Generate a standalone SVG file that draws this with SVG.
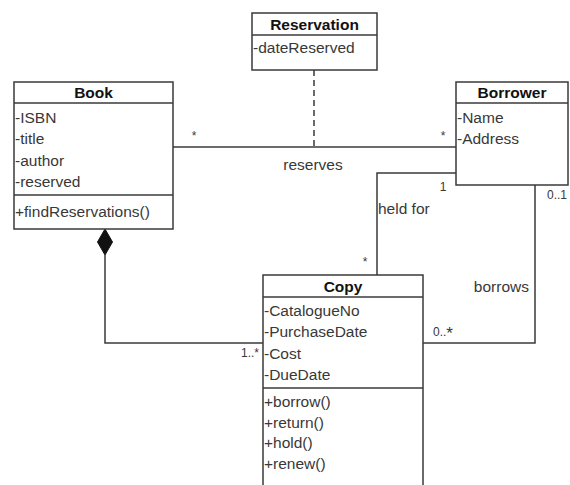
<svg xmlns="http://www.w3.org/2000/svg" width="570" height="485" viewBox="0 0 570 485">
<style>
.box{fill:#fff;stroke:#3a3a3a;stroke-width:1.5}
.sep{stroke:#3a3a3a;stroke-width:1.5}
.ln{fill:none;stroke:#3a3a3a;stroke-width:1.5}
.dash{fill:none;stroke:#3a3a3a;stroke-width:1.5;stroke-dasharray:6,4}
text{font-family:"Liberation Sans",Arial,sans-serif;fill:#383838}
.t{font-size:15.5px;font-weight:bold;text-anchor:middle;fill:#111}
.a{font-size:15.5px}
.m{font-size:12px}
</style>
<rect width="570" height="485" fill="#fff"/>
<g id="connectors">
<path class="ln" d="M173,147 H456"/>
<path class="dash" d="M314,70 V147"/>
<path class="ln" d="M456,173 H377 V275"/>
<path class="ln" d="M535,185 V343 H423"/>
<path class="ln" d="M105,255 V343 H263"/>
<polygon points="105,229 112.5,242 105,255 97.5,242" fill="#111" stroke="#111" stroke-width="1"/>
<text class="m" x="194" y="140" text-anchor="middle">*</text>
<text class="m" x="443" y="140" text-anchor="middle">*</text>
<text class="a" x="313" y="170" text-anchor="middle">reserves</text>
<text class="m" x="443" y="191" text-anchor="middle">1</text>
<text class="a" x="378" y="214">held for</text>
<text class="m" x="365" y="266" text-anchor="middle">*</text>
<text class="m" x="547" y="199">0..1</text>
<text class="a" x="529" y="292" text-anchor="end">borrows</text>
<text class="m" x="433" y="336">0..<tspan font-size="17px" dy="3">*</tspan></text>
<text class="m" x="241" y="357">1..*</text>
</g>
<g id="book">
<rect class="box" x="14" y="82" width="159" height="147"/>
<line class="sep" x1="14" y1="103" x2="173" y2="103"/>
<line class="sep" x1="14" y1="195" x2="173" y2="195"/>
<text class="t" x="93.5" y="98">Book</text>
<text class="a" x="15" y="123">-ISBN</text>
<text class="a" x="15" y="144">-title</text>
<text class="a" x="15" y="166">-author</text>
<text class="a" x="15" y="187">-reserved</text>
<text class="a" x="15" y="217">+findReservations()</text>
</g>
<g id="reservation">
<rect class="box" x="252" y="13" width="125" height="57"/>
<line class="sep" x1="252" y1="35" x2="377" y2="35"/>
<text class="t" x="314.5" y="30">Reservation</text>
<text class="a" x="253" y="53">-dateReserved</text>
</g>
<g id="borrower">
<rect class="box" x="456" y="82" width="112" height="103"/>
<line class="sep" x1="456" y1="103" x2="568" y2="103"/>
<text class="t" x="512" y="98">Borrower</text>
<text class="a" x="457" y="123">-Name</text>
<text class="a" x="457" y="144">-Address</text>
</g>
<g id="copy">
<rect class="box" x="263" y="275" width="160" height="220"/>
<line class="sep" x1="263" y1="297" x2="423" y2="297"/>
<line class="sep" x1="263" y1="388" x2="423" y2="388"/>
<text class="t" x="343" y="292">Copy</text>
<text class="a" x="264" y="316">-CatalogueNo</text>
<text class="a" x="264" y="337">-PurchaseDate</text>
<text class="a" x="264" y="359">-Cost</text>
<text class="a" x="264" y="380">-DueDate</text>
<text class="a" x="264" y="407">+borrow()</text>
<text class="a" x="264" y="428">+return()</text>
<text class="a" x="264" y="448">+hold()</text>
<text class="a" x="264" y="469">+renew()</text>
</g>
</svg>
